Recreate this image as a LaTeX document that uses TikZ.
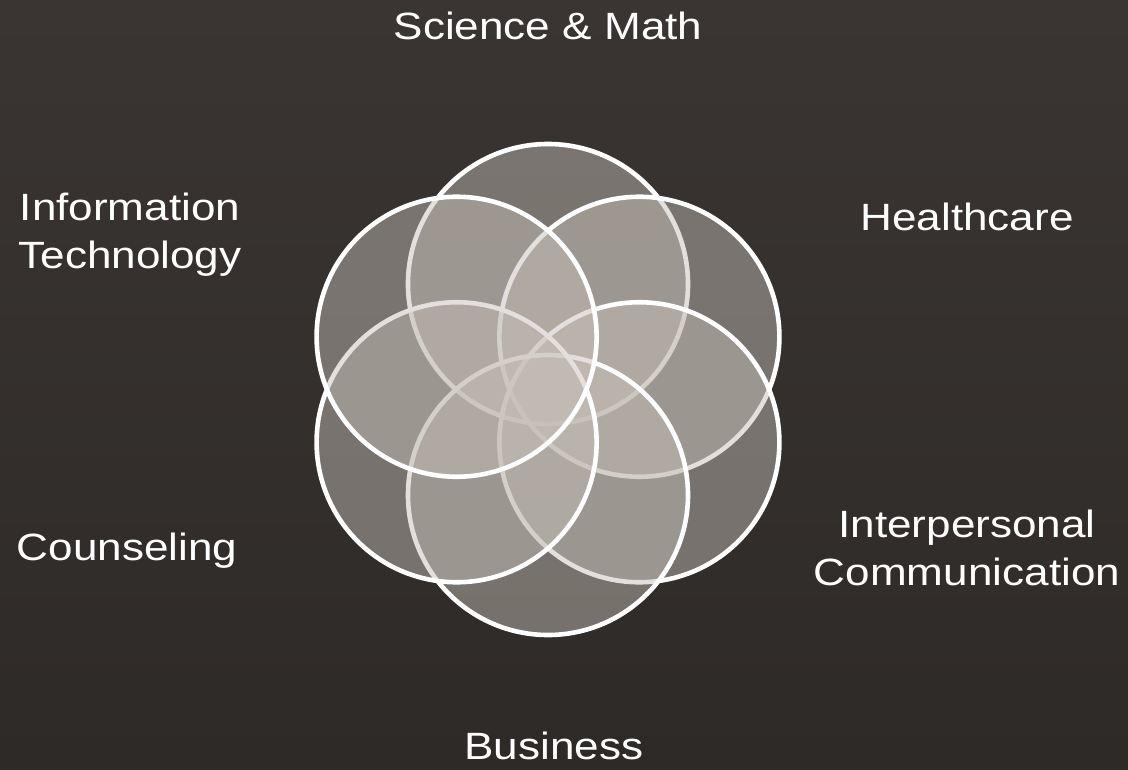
\documentclass[tikz,border=0pt]{standalone}
\usepackage{fontspec}
\setmainfont{Liberation Sans}[FakeStretch=1.16]
\definecolor{bgtop}{RGB}{58,53,50}
\definecolor{bgbot}{RGB}{46,42,40}
\definecolor{venn}{RGB}{196,190,182}
\tikzset{
  vennring/.style={draw=white, line width=4.6pt, fill=venn, fill opacity=0.48},
  lbl/.style={text=white, inner sep=0pt, anchor=base, align=center, font=\fontsize{38}{48}\selectfont},
}
\begin{document}
\begin{tikzpicture}[x=1pt,y=-1pt]
\shade[top color=bgtop, bottom color=bgbot] (0,0) rectangle (1128,769);
\useasboundingbox (0,0) rectangle (1128,769);
% circle centres
\coordinate (cS) at (548,284);
\coordinate (cH) at (639.4,336.75);
\coordinate (cI) at (639.4,442.25);
\coordinate (cB) at (548,495);
\coordinate (cC) at (456.6,442.25);
\coordinate (cT) at (456.6,336.75);
\foreach \c in {cS,cH,cI,cB,cC,cT}{
  \path[vennring] (\c) circle[radius=140];
}
\node[lbl] (science) at (548,39) {Science \& Math};
\node[lbl] (health) at (967,230) {Healthcare};
\node[lbl] (inter) at (967,585) {Interpersonal\\Communication};
\node[lbl] (business) at (554,759) {Business};
\node[lbl] (couns) at (127,560) {Counseling};
\node[lbl] (it) at (130,268) {Information\\Technology};
\end{tikzpicture}
\end{document}
